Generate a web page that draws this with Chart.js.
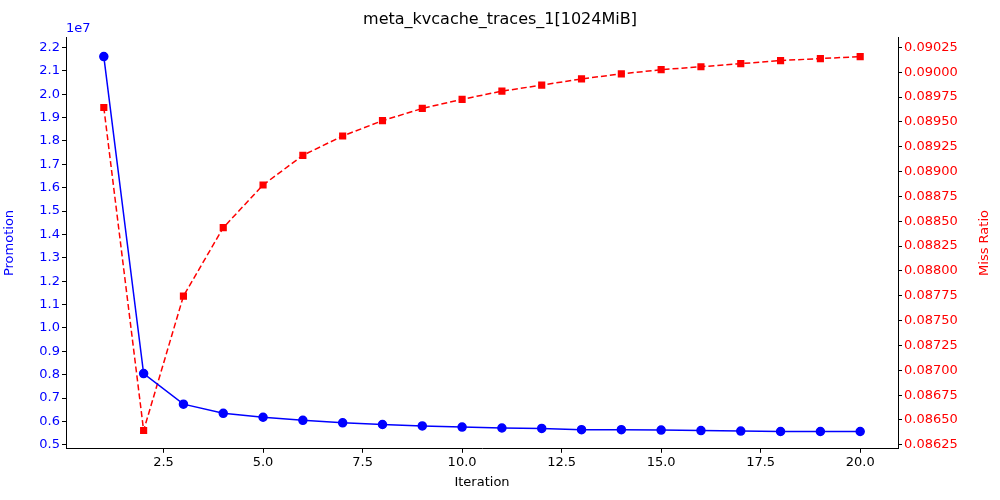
<!DOCTYPE html>
<html>
<head>
<script src="https://cdn.jsdelivr.net/npm/chart.js@4/dist/chart.umd.min.js"></script>
<style>body{margin:0;background:#fff}#wrap{width:1000px;height:500px}</style>
</head>
<body>
<div id="wrap"><canvas id="c"></canvas></div>
<script>
const iterations = [1,2,3,4,5,6,7,8,9,10,11,12,13,14,15,16,17,18,19,20];
const promotion = [21610000,8050000,6740000,6350000,6180000,6050000,5940000,5870000,5810000,5760000,5720000,5700000,5650000,5650000,5630000,5610000,5590000,5570000,5570000,5570000];
const missRatio = [0.089645,0.086394,0.087747,0.088435,0.088865,0.089163,0.089358,0.089512,0.089635,0.089727,0.089809,0.08987,0.089932,0.089983,0.090025,0.090055,0.090086,0.090117,0.090137,0.090157];

const font = { family: "DejaVu Sans", size: 13 };
const axisGrid = { drawOnChartArea: false, drawTicks: true, tickLength: 4, color: "#000" };

const extraText = {
  id: "extraText",
  afterDraw(chart) {
    const ctx = chart.ctx, a = chart.chartArea;
    ctx.save();
    ctx.font = "13px DejaVu Sans";
    ctx.fillStyle = "#0000ff";
    ctx.textBaseline = "bottom";
    ctx.fillText("1e7", a.left, a.top - 2);
    // right axis title, reading bottom to top
    ctx.fillStyle = "#ff0000";
    ctx.translate(985, (a.top + a.bottom) / 2);
    ctx.rotate(-Math.PI / 2);
    ctx.textAlign = "center";
    ctx.textBaseline = "middle";
    ctx.fillText("Miss Ratio", 0, 0);
    ctx.restore();
  }
};

new Chart(document.getElementById("c"), {
  type: "line",
  data: {
    datasets: [{
      label: "Promotion",
      data: iterations.map((x, i) => ({ x, y: promotion[i] })),
      borderColor: "#0000ff", backgroundColor: "#0000ff",
      borderWidth: 1.5, pointRadius: 4, pointStyle: "circle",
      yAxisID: "y"
    }, {
      label: "Miss Ratio",
      data: iterations.map((x, i) => ({ x, y: missRatio[i] })),
      borderColor: "#ff0000", backgroundColor: "#ff0000",
      borderWidth: 1.5, borderDash: [6, 3], pointRadius: 4, pointStyle: "rect",
      yAxisID: "y1"
    }]
  },
  options: {
    responsive: true, maintainAspectRatio: false, animation: false,
    layout: { padding: { top: 0, right: 0, bottom: 8, left: 0 } },
    plugins: {
      legend: { display: false },
      tooltip: { enabled: false },
      title: { display: true, text: "meta_kvcache_traces_1[1024MiB]", color: "#000",
        font: { family: "DejaVu Sans", size: 16, weight: "normal" }, padding: { top: 10, bottom: 8 } }
    },
    scales: {
      x: {
        type: "linear", min: 0.05, max: 20.95,
        afterBuildTicks(s) { s.ticks = [2.5,5,7.5,10,12.5,15,17.5,20].map(v => ({ value: v })); },
        ticks: { color: "#000", font, callback: v => v.toFixed(1), maxRotation: 0, padding: 2 },
        grid: axisGrid,
        border: { color: "#000" },
        title: { display: true, text: "Iteration", color: "#000", font, padding: 2 }
      },
      y: {
        position: "left", min: 4830000, max: 22440000,
        afterFit(s) { s.width = 66; },
        afterBuildTicks(s) { const t = []; for (let k = 5; k <= 22; k++) t.push({ value: k * 1e6 }); s.ticks = t; },
        ticks: { color: "#0000ff", font, callback: v => (v / 1e7).toFixed(1), padding: 2 },
        grid: axisGrid,
        border: { color: "#000" },
        title: { display: true, text: "Promotion", color: "#0000ff", font, padding: 2 }
      },
      y1: {
        position: "right", min: 0.086210, max: 0.090352,
        afterFit(s) { s.width = 102; },
        afterBuildTicks(s) { const t = []; for (let k = 0; k <= 16; k++) t.push({ value: 0.08625 + k * 0.00025 }); s.ticks = t; },
        ticks: { color: "#ff0000", font, callback: v => v.toFixed(5), padding: 2 },
        grid: axisGrid,
        border: { color: "#000" }
      }
    }
  },
  plugins: [extraText]
});
</script>
</body>
</html>
